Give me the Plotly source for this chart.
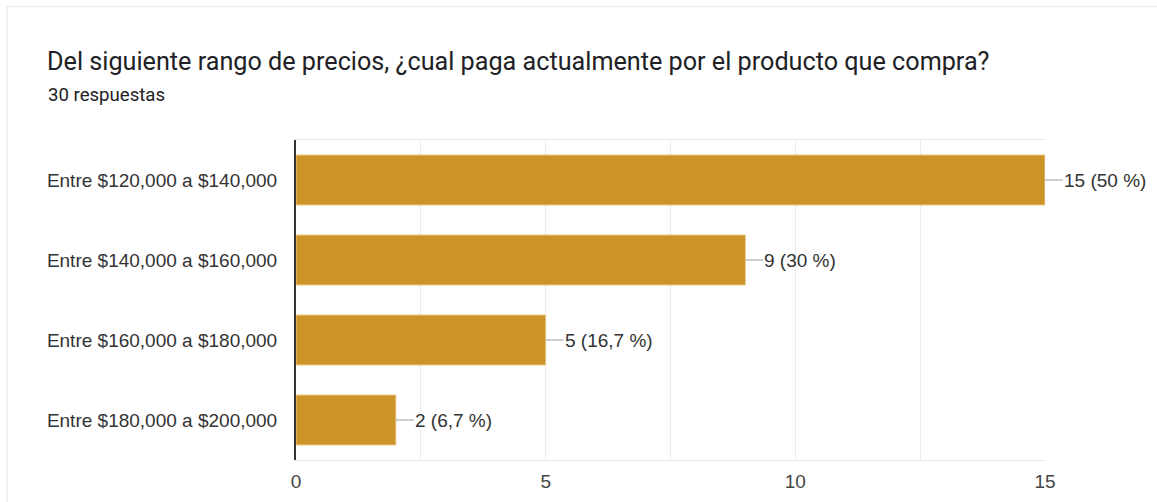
import plotly.graph_objects as go

categories = ["Entre $120,000 a $140,000", "Entre $140,000 a $160,000",
              "Entre $160,000 a $180,000", "Entre $180,000 a $200,000"]
counts = [15, 9, 5, 2]
percent_labels = ["50 %", "30 %", "16,7 %", "6,7 %"]
x_ticks = [0, 5, 10, 15]

title_text = "Del siguiente rango de precios, ¿cual paga actualmente por el producto que compra?"
subtitle_text = "30 respuestas"

W, H = 1157, 502
L, R, T, B = 296, 112, 140, 42
pw, ph = W - L - R, H - T - B

fig = go.Figure()
fig.add_trace(go.Bar(
    y=categories, x=counts, orientation="h",
    marker=dict(color="#cc9326", line=dict(color="#e6c78c", width=1)),
    width=0.625, hoverinfo="skip",
))

annotations = []
for c, v, p in zip(categories, counts, percent_labels):
    annotations.append(dict(
        x=v, y=c, xref="x", yref="y", text=f"{v} ({p})",
        showarrow=True, arrowhead=0, arrowwidth=1, arrowcolor="#9e9e9e",
        ax=18, ay=0, xanchor="left", yanchor="middle",
        font=dict(family="Liberation Sans, Arial", size=19, color="#333333"),
        borderpad=0,
    ))

annotations.append(dict(
    x=(46 - L) / pw, y=(H - B - 95.5) / ph, xref="paper", yref="paper",
    text=subtitle_text, showarrow=False, xanchor="left", yanchor="middle",
    font=dict(family="Roboto", size=18.6, color="#202124"),
))
annotations.append(dict(
    x=(45 - L) / pw, y=(H - B - 61) / ph, xref="paper", yref="paper",
    text=title_text, showarrow=False, xanchor="left", yanchor="middle",
    font=dict(family="Roboto", size=25.2, color="#202124"),
))

shapes = [dict(
    type="rect", xref="paper", yref="paper",
    x0=(7 - L) / pw, x1=(W + 20 - L) / pw,
    y0=(H - B - (H + 20)) / ph, y1=(H - B - 6.5) / ph,
    line=dict(color="#eeeeee", width=1.5), fillcolor="rgba(0,0,0,0)", layer="below",
)]

fig.update_layout(
    width=W, height=H,
    margin=dict(l=L, r=R, t=T, b=B, pad=0, autoexpand=False),
    paper_bgcolor="white", plot_bgcolor="white",
    showlegend=False,
    annotations=annotations, shapes=shapes,
    xaxis=dict(
        range=[0, 15], tickvals=x_ticks, ticktext=[str(t) for t in x_ticks],
        showgrid=True, gridcolor="#ebebeb", gridwidth=1,
        minor=dict(dtick=2.5, tick0=0, showgrid=True, gridcolor="#ebebeb", gridwidth=1),
        showline=True, linecolor="#ebebeb", linewidth=1, mirror=True,
        zeroline=False, ticks="", ticklabelstandoff=4,
        tickfont=dict(family="Liberation Sans, Arial", size=19, color="#444444"),
        fixedrange=True, automargin=False,
    ),
    yaxis=dict(
        autorange="reversed", showgrid=False, zeroline=False,
        showline=True, linecolor="#333333", linewidth=2,
        ticks="", ticklabelstandoff=13,
        tickfont=dict(family="Liberation Sans, Arial", size=19, color="#333333"),
        fixedrange=True, automargin=False,
    ),
    bargap=0.375,
)

fig.write_html("out.html", config={"displayModeBar": False})
